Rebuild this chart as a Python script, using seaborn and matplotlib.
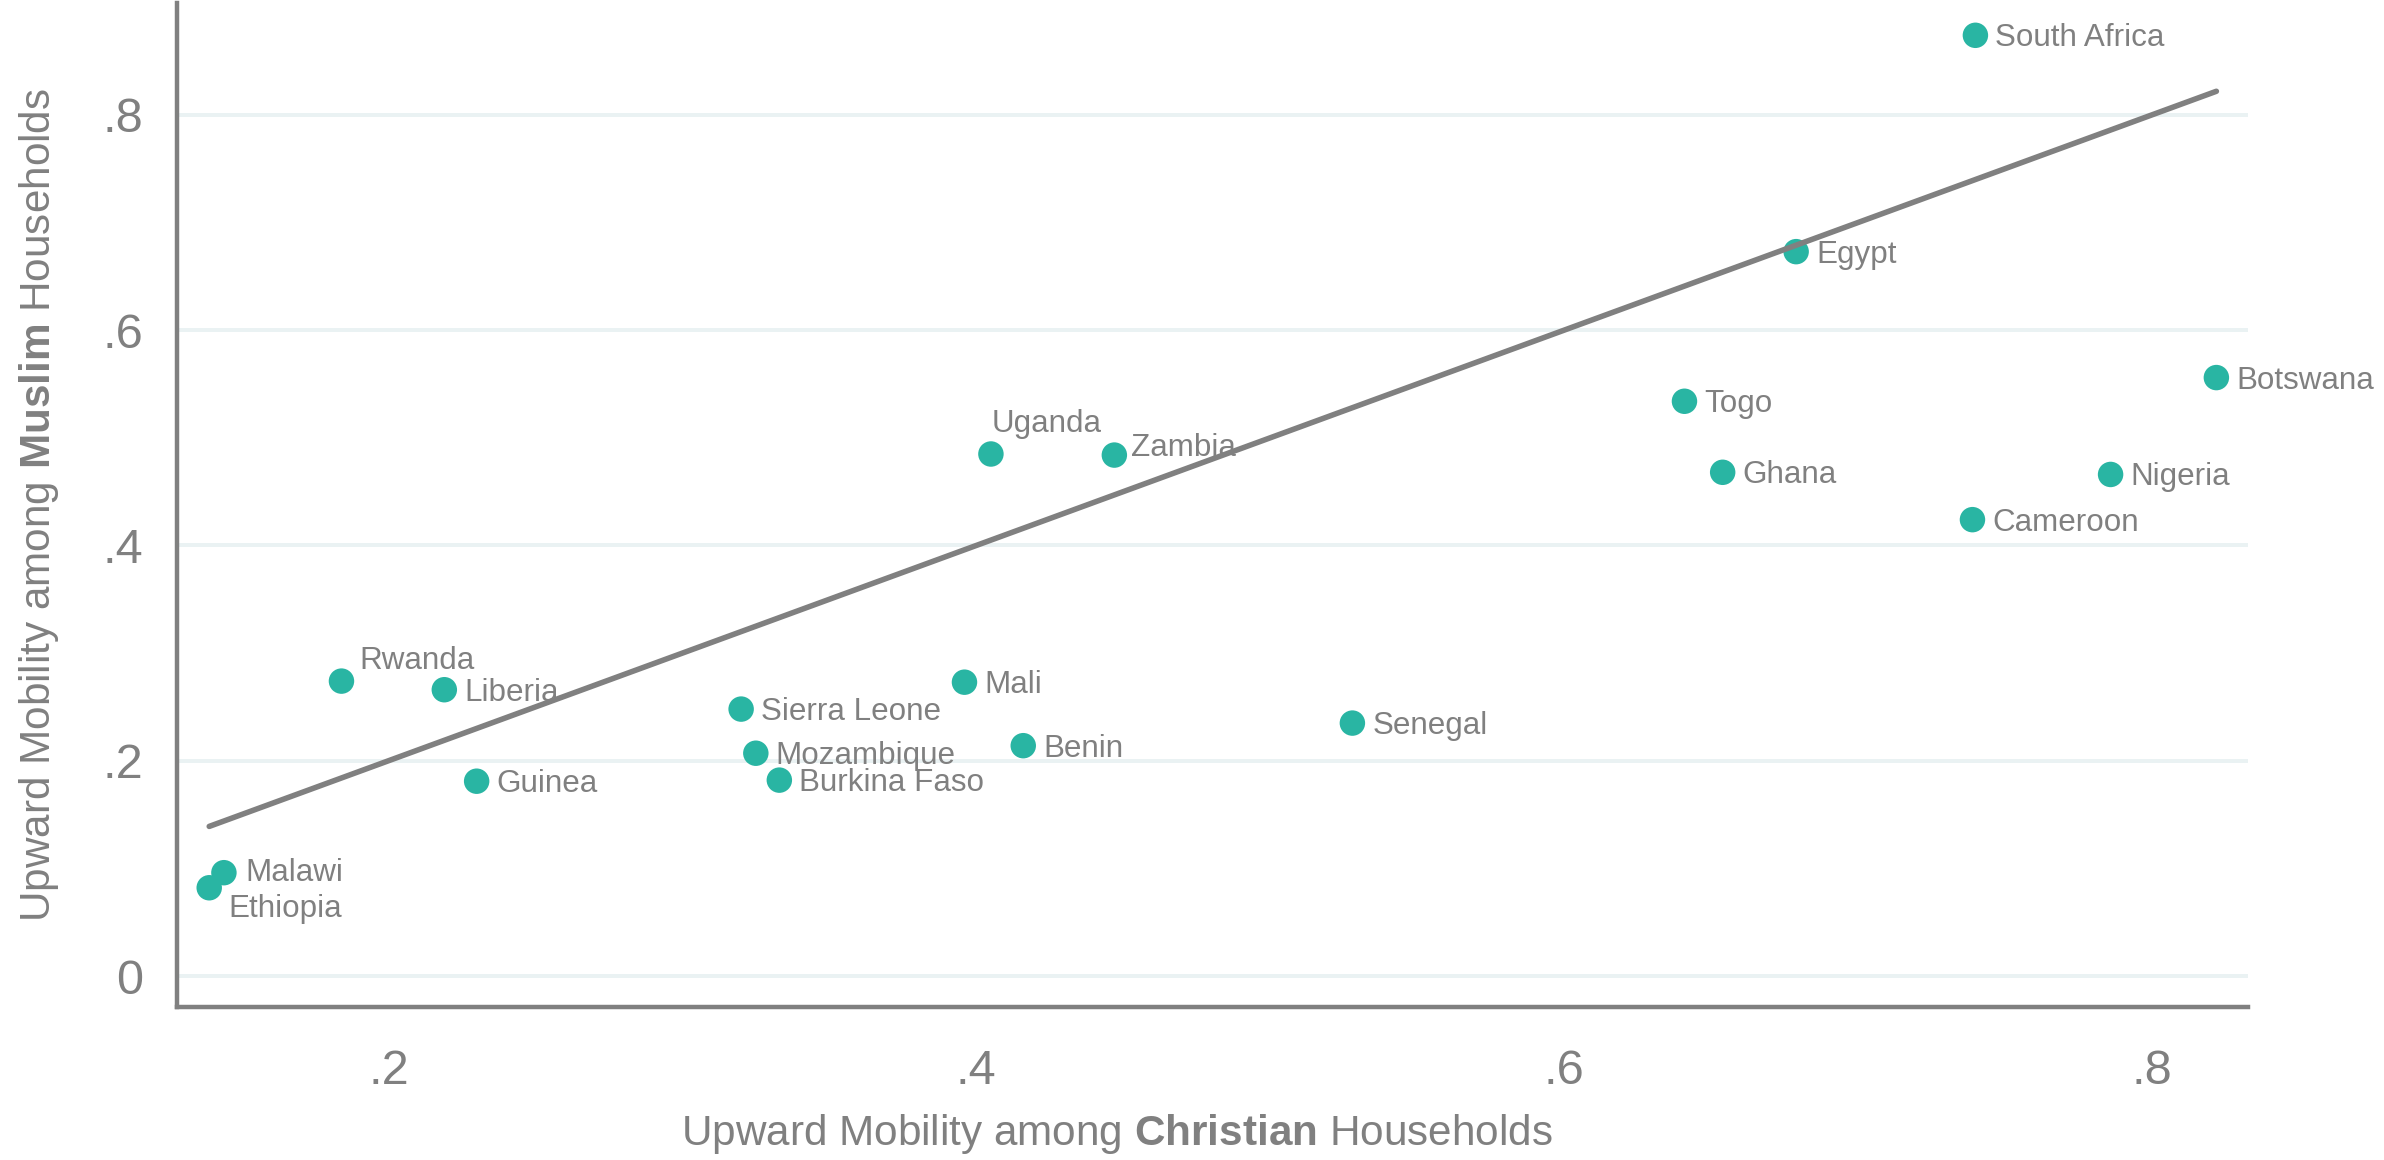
import matplotlib
matplotlib.use("Agg")
import matplotlib.pyplot as plt
import seaborn as sns
import pandas as pd

# ---- data ----
countries = ["South Africa", "Egypt", "Togo", "Botswana", "Ghana", "Nigeria",
             "Cameroon", "Uganda", "Zambia", "Rwanda", "Liberia", "Guinea",
             "Malawi", "Ethiopia", "Sierra Leone", "Mozambique", "Burkina Faso",
             "Mali", "Benin", "Senegal"]
christian = [0.740, 0.679, 0.641, 0.822, 0.654, 0.786,
             0.739, 0.405, 0.447, 0.184, 0.219, 0.230,
             0.144, 0.139, 0.320, 0.325, 0.333,
             0.396, 0.416, 0.528]
muslim = [0.874, 0.673, 0.534, 0.556, 0.468, 0.466,
          0.424, 0.485, 0.484, 0.274, 0.266, 0.181,
          0.096, 0.082, 0.248, 0.207, 0.182,
          0.273, 0.214, 0.235]
x_ticks = [0.2, 0.4, 0.6, 0.8]
x_ticklabels = [".2", ".4", ".6", ".8"]
y_ticks = [0.0, 0.2, 0.4, 0.6, 0.8]
y_ticklabels = ["0", ".2", ".4", ".6", ".8"]

df = pd.DataFrame({"country": countries, "christian": christian, "muslim": muslim})

# ---- style ----
sns.set_style("white")
plt.rcParams["font.family"] = ["Liberation Sans", "DejaVu Sans"]
plt.rcParams["mathtext.fontset"] = "custom"
plt.rcParams["mathtext.rm"] = "Liberation Sans"
plt.rcParams["mathtext.bf"] = "Liberation Sans:bold"

DPI = 200
PX = 72.0 / DPI  # points per pixel
GRAY = "#808080"
TEAL = "#29b5a3"
GRID = "#eaf2f3"

# label offsets in pixels (dx right, dy down)
default_off = (20, 3)
label_off = {"Uganda": (1, -30), "Rwanda": (18, -20), "Zambia": (17, -7),
             "Ethiopia": (19, 21), "Malawi": (21, 0)}

fig = plt.figure(figsize=(2384 / DPI, 1160 / DPI), dpi=DPI)
ax = fig.add_axes([0.0742, 0.1316, 0.8688, 0.8658])

sns.scatterplot(data=df, x="christian", y="muslim", ax=ax, color=TEAL,
                s=84, edgecolor="none", linewidth=0, zorder=3, legend=False)

for c, xv, yv in zip(countries, christian, muslim):
    dx, dy = label_off.get(c, default_off)
    ax.annotate(c, (xv, yv), xytext=(dx * PX, -dy * PX), textcoords="offset points",
                ha="left", va="center", fontsize=11.3, color=GRAY, zorder=4)

# 45-degree reference line across the range of Christian mobility
lo, hi = min(christian), max(christian)
sns.lineplot(x=[lo, hi], y=[lo, hi], ax=ax, color=GRAY, linewidth=2.0, zorder=5)

ax.set_xlim(0.128, 0.8328)
ax.set_ylim(-0.0291, 0.904)
ax.set_xticks(x_ticks)
ax.set_xticklabels(x_ticklabels)
ax.set_yticks(y_ticks)
ax.set_yticklabels(y_ticklabels)

ax.tick_params(axis="both", colors=GRAY, labelcolor=GRAY, labelsize=17.5,
               length=6.5, width=1.5, direction="out")
ax.tick_params(axis="x", pad=8.5)
ax.tick_params(axis="y", pad=5.5)

for side in ["top", "right"]:
    ax.spines[side].set_visible(False)
for side in ["left", "bottom"]:
    ax.spines[side].set_color(GRAY)
    ax.spines[side].set_linewidth(1.6)

ax.yaxis.grid(True, color=GRID, linewidth=1.44, zorder=0)
ax.xaxis.grid(False)
ax.set_axisbelow(True)

ax.set_xlabel(r"Upward Mobility among $\mathbf{Christian}$ Households",
              fontsize=15.2, color=GRAY)
ax.set_ylabel(r"Upward Mobility among $\mathbf{Muslim}$ Households",
              fontsize=15.2, color=GRAY)
ax.xaxis.set_label_coords(0.454, -0.1262)
ax.xaxis.label.set_va("center")
ax.yaxis.set_label_coords(-0.0665, 0.5)
ax.yaxis.label.set_va("center")

fig.savefig("out.png", dpi=DPI, facecolor="white")
